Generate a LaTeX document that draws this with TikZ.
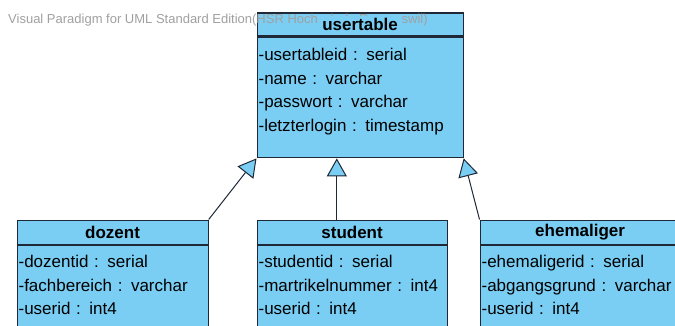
\documentclass[tikz,border=0pt]{standalone}
\usepackage{fontspec}
\setmainfont{Liberation Sans}
\usetikzlibrary{arrows.meta,calc}
\definecolor{umlblue}{RGB}{122,206,244}
\definecolor{umlline}{RGB}{30,40,55}
\definecolor{vpgray}{RGB}{160,160,160}
\tikzset{
  classhead/.style={draw=umlline, fill=umlblue, line width=1.2pt, inner sep=0pt, minimum height=24pt, anchor=north west, font=\fontsize{17}{20}\selectfont\bfseries},
  classname/.style={fill=umlblue, inner xsep=4pt, inner ysep=2pt, font=\fontsize{17}{20}\selectfont\bfseries},
  classbody/.style={draw=umlline, fill=umlblue, line width=1.2pt, inner xsep=1.5pt, inner ysep=0pt, anchor=north west, align=left, font=\fontsize{17}{23.5}\selectfont},
  generalization/.style={draw=umlline, line width=1pt, -{Triangle[length=18pt,width=20pt,fill=umlblue]}},
  watermark/.style={text=vpgray, inner sep=0pt, anchor=base west, font=\fontsize{13}{15}\selectfont},
}
\begin{document}
\begin{tikzpicture}[x=1pt, y=-1pt]
    \path[use as bounding box, fill=white] (0, 0) rectangle (675, 326);
    \clip (0, 0) rectangle (675, 326);
    \node[classhead, minimum width=206pt, minimum height=23pt] (usertable) at (256.5, 12.5) {};
    \node[classbody, text width=203pt] (usertablebody) at (usertable.south west) {\rule{0pt}{23.5pt}-usertableid : serial\\
        -name : varchar\\
        -passwort : varchar\\
        -letzterlogin : timestamp\rule[-26.5pt]{0pt}{26.5pt}};
    \node[watermark] (vpnote) at (8, 24) {Visual Paradigm for UML Standard Edition(HSR Hochschule Rapperswil)};
    \node[classname] (usertablename) at (usertable.center) {usertable};
    \node[classhead, minimum width=191pt] (dozent) at (16.5, 219.5) {dozent};
    \node[classbody, text width=188pt] (dozentbody) at (dozent.south west) {\rule{0pt}{22.5pt}-dozentid : serial\\
        -fachbereich : varchar\\
        -userid : int4\rule[-40pt]{0pt}{40pt}};
    \node[classhead, minimum width=190pt] (student) at (256.5, 219.5) {student};
    \node[classbody, text width=187pt] (studentbody) at (student.south west) {\rule{0pt}{22.5pt}-studentid : serial\\
        -martrikelnummer : int4\\
        -userid : int4\rule[-40pt]{0pt}{40pt}};
    \node[classhead, minimum width=200pt] (ehemaliger) at (479.5, 219.5) {ehemaliger};
    \node[classbody, text width=197pt] (ehemaligerbody) at (ehemaliger.south west) {\rule{0pt}{22.5pt}-ehemaligerid : serial\\
        -abgangsgrund : varchar\\
        -userid : int4\rule[-40pt]{0pt}{40pt}};
    \coordinate (studenttop) at ($(student.north west)!0.42!(student.north east)$);
    \draw[generalization] (dozent.north east) -- (usertablebody.south west);
    \draw[generalization] (studenttop) -- (studenttop |- usertablebody.south);
    \draw[generalization] (ehemaliger.north west) -- (usertablebody.south east);
\end{tikzpicture}
\end{document}
